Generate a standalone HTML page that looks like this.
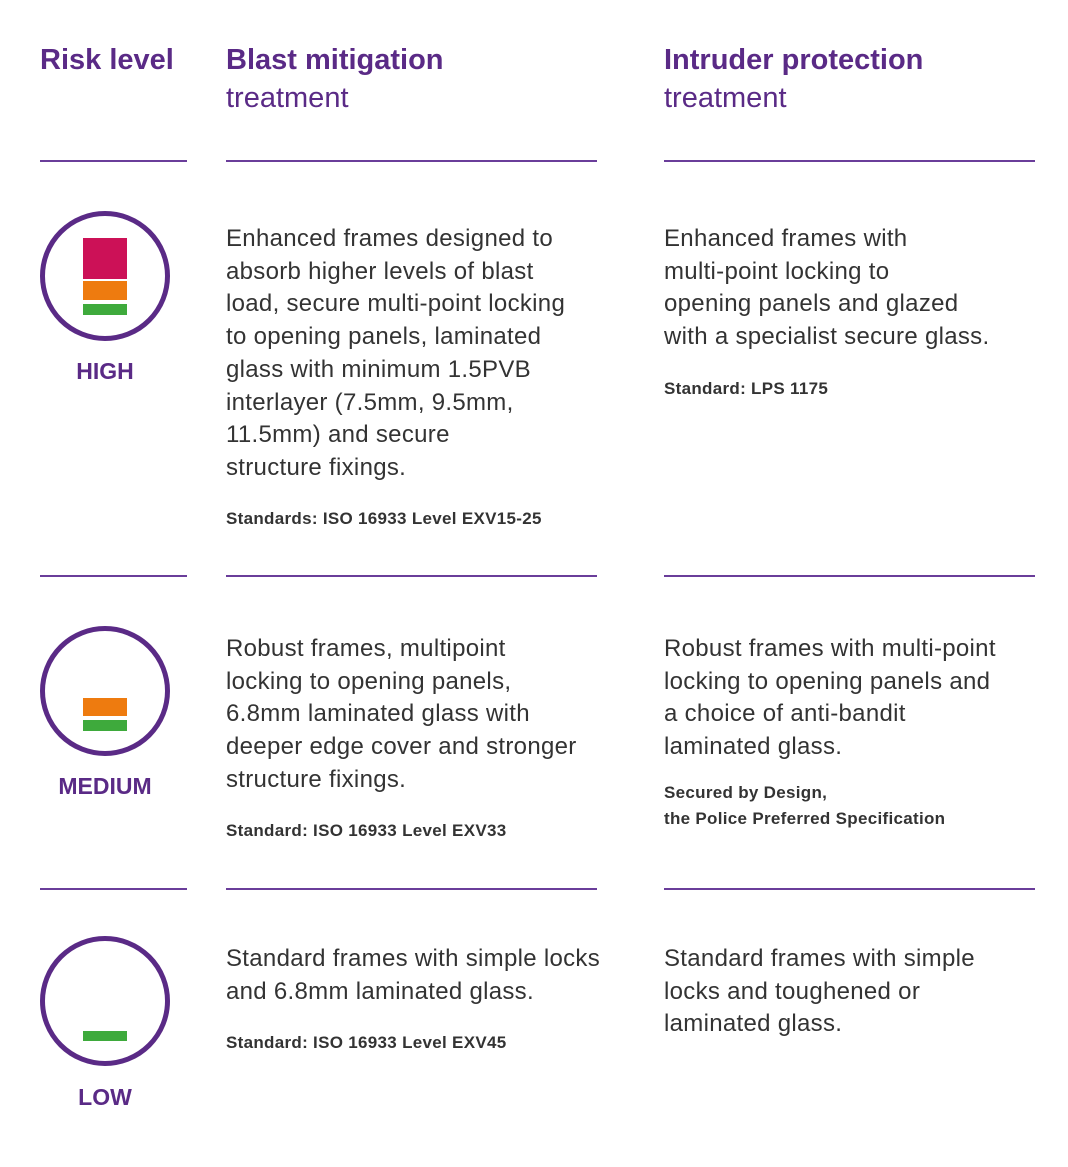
<!DOCTYPE html>
<html><head><meta charset="utf-8"><style>
body{margin:0;width:1068px;height:1167px;background:#fff;position:relative;font-family:"Liberation Sans",sans-serif;overflow:hidden}
.a{position:absolute;white-space:nowrap}
.h{color:#5a2a86;font-size:29px;line-height:38px}
.h b{font-weight:bold}
.t{color:#333;font-size:24px;line-height:32.7px;letter-spacing:0.3px}
.s{color:#333;font-size:17px;font-weight:bold;line-height:26px;letter-spacing:0.3px}
.l{position:absolute;height:2px;background:#6a3d9a}
.c{position:absolute;width:120px;height:120px;border:5px solid #5a2a86;border-radius:50%;box-sizing:content-box}
.r{position:absolute;left:83px;width:44px}
.lab{position:absolute;width:130px;left:40px;text-align:center;color:#5a2a86;font-weight:bold;font-size:23px}
</style></head><body>
<div class="a h" style="left:40px;top:41px"><b>Risk level</b></div>
<div class="a h" style="left:226px;top:41px"><b>Blast mitigation</b><br>treatment</div>
<div class="a h" style="left:664px;top:41px"><b>Intruder protection</b><br>treatment</div>

<div class="l" style="left:40px;width:147px;top:160px"></div>
<div class="l" style="left:226px;width:371px;top:160px"></div>
<div class="l" style="left:664px;width:371px;top:160px"></div>
<div class="l" style="left:40px;width:147px;top:575px"></div>
<div class="l" style="left:226px;width:371px;top:575px"></div>
<div class="l" style="left:664px;width:371px;top:575px"></div>
<div class="l" style="left:40px;width:147px;top:888px"></div>
<div class="l" style="left:226px;width:371px;top:888px"></div>
<div class="l" style="left:664px;width:371px;top:888px"></div>

<div class="c" style="left:40px;top:211px"></div>
<div class="r" style="top:238px;height:41px;background:#cc1157"></div>
<div class="r" style="top:281px;height:19px;background:#ee7b0f"></div>
<div class="r" style="top:304px;height:11px;background:#3eaa3c"></div>
<div class="lab" style="top:358px">HIGH</div>

<div class="c" style="left:40px;top:626px"></div>
<div class="r" style="top:698px;height:18px;background:#ee7b0f"></div>
<div class="r" style="top:720px;height:11px;background:#3eaa3c"></div>
<div class="lab" style="top:773px">MEDIUM</div>

<div class="c" style="left:40px;top:936px"></div>
<div class="r" style="top:1031px;height:10px;background:#3eaa3c"></div>
<div class="lab" style="top:1084px">LOW</div>

<div class="a t" style="left:226px;top:223px">Enhanced frames designed to<br>absorb higher levels of blast<br>load, secure multi-point locking<br>to opening panels, laminated<br>glass with minimum 1.5PVB<br>interlayer (7.5mm, 9.5mm,<br>11.5mm) and secure<br>structure fixings.</div>
<div class="a s" style="left:226px;top:506px">Standards: ISO 16933 Level EXV15-25</div>
<div class="a t" style="left:664px;top:223px">Enhanced frames with<br>multi-point locking to<br>opening panels and glazed<br>with a specialist secure glass.</div>
<div class="a s" style="left:664px;top:376px">Standard: LPS 1175</div>

<div class="a t" style="left:226px;top:633px">Robust frames, multipoint<br>locking to opening panels,<br>6.8mm laminated glass with<br>deeper edge cover and stronger<br>structure fixings.</div>
<div class="a s" style="left:226px;top:818px">Standard: ISO 16933 Level EXV33</div>
<div class="a t" style="left:664px;top:633px">Robust frames with multi-point<br>locking to opening panels and<br>a choice of anti-bandit<br>laminated glass.</div>
<div class="a s" style="left:664px;top:780px">Secured by Design,<br>the Police Preferred Specification</div>

<div class="a t" style="left:226px;top:943px">Standard frames with simple locks<br>and 6.8mm laminated glass.</div>
<div class="a s" style="left:226px;top:1030px">Standard: ISO 16933 Level EXV45</div>
<div class="a t" style="left:664px;top:943px">Standard frames with simple<br>locks and toughened or<br>laminated glass.</div>
</body></html>
